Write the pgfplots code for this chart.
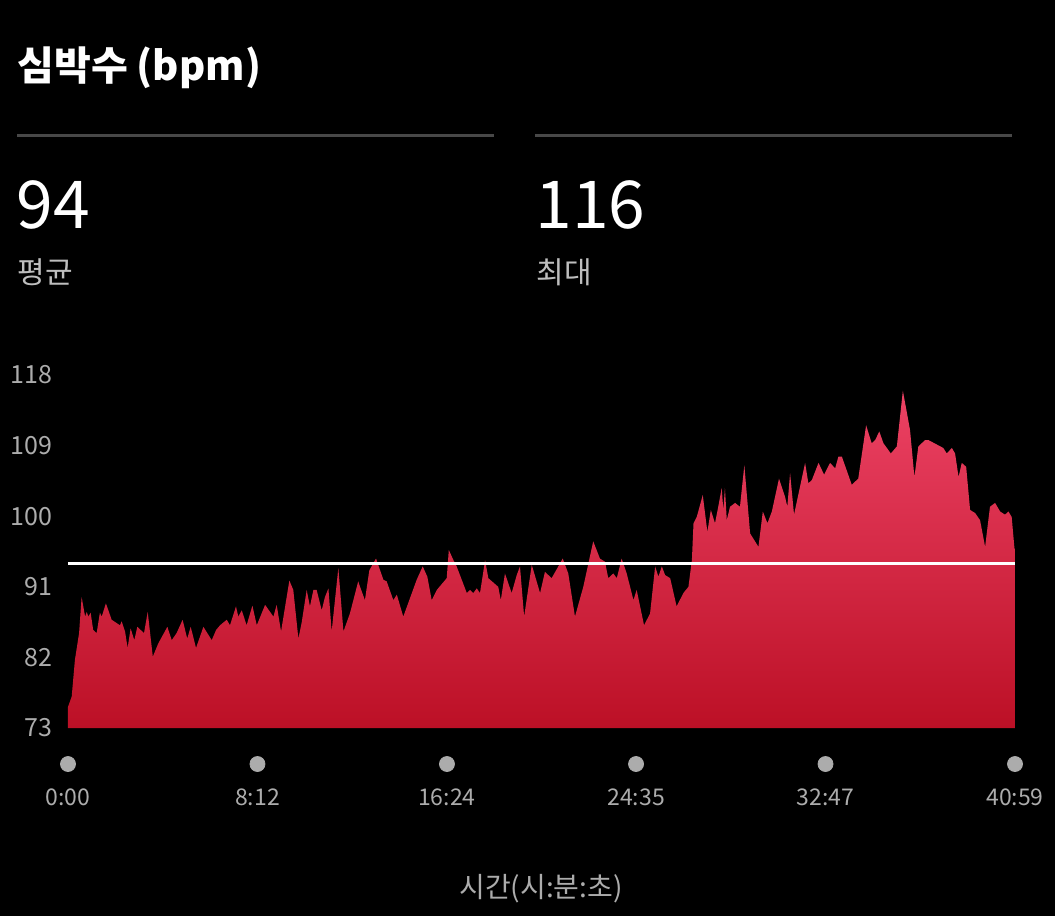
\documentclass[border=0pt]{standalone}
\usepackage{fontspec}
\setmainfont{Noto Sans CJK KR}
\usepackage{pgfplots}
\usepackage{pgfplotstable}
\pgfplotsset{compat=1.18}
\definecolor{tickgray}{RGB}{172,172,172}
\definecolor{lblgray}{RGB}{190,190,190}
\definecolor{sepgray}{RGB}{72,72,72}
\definecolor{hrtop}{RGB}{236,66,100}
\definecolor{hrbot}{RGB}{188,16,38}

\pgfplotstableread{
t bpm
0.00 73
0.00 75.7
0.16 77.0
0.30 81.7
0.48 85.1
0.59 89.7
0.74 87.2
0.81 87.8
0.88 87.2
0.98 87.7
1.09 85.5
1.24 85.1
1.38 87.7
1.46 87.2
1.64 88.9
1.89 86.8
2.25 86.1
2.32 86.6
2.47 85.3
2.58 83.2
2.71 85.7
2.87 84.2
3.00 85.9
3.29 85.1
3.45 87.8
3.67 82.1
3.91 83.8
4.30 85.9
4.49 84.2
4.70 85.1
4.96 86.8
5.16 84.4
5.31 85.9
5.54 83.2
5.86 85.9
6.22 84.2
6.41 85.5
6.58 86.1
6.87 86.8
7.01 86.1
7.27 88.5
7.37 87.2
7.52 88.0
7.73 86.1
7.98 88.6
8.17 86.1
8.53 88.7
8.89 87.2
9.03 88.7
9.22 85.3
9.58 91.8
9.75 90.6
9.97 84.4
10.11 86.4
10.33 90.6
10.47 88.5
10.62 90.6
10.76 90.6
10.98 88.0
11.12 89.7
11.27 90.8
11.41 85.3
11.70 93.4
11.92 85.3
12.20 87.6
12.56 91.7
12.64 91.0
12.85 89.3
13.04 93.1
13.33 94.6
13.65 91.9
13.79 91.7
14.08 89.3
14.23 90.0
14.51 87.2
15.09 91.9
15.35 93.6
15.55 92.3
15.74 89.3
15.96 90.6
16.39 92.1
16.48 95.7
16.68 94.4
16.82 93.6
17.26 90.2
17.40 90.6
17.54 90.2
17.69 90.8
17.83 90.2
18.05 94.4
18.19 92.1
18.62 91.0
18.73 89.3
18.91 92.7
19.20 90.2
19.42 92.5
19.56 93.6
19.74 87.2
20.07 93.8
20.43 90.2
20.64 92.9
20.93 92.1
21.41 94.6
21.65 92.7
21.94 87.2
22.30 91.0
22.73 96.8
23.02 94.6
23.24 94.2
23.38 92.1
23.60 92.7
23.75 92.1
23.96 94.6
24.18 92.7
24.47 89.3
24.61 90.6
24.93 86.1
25.19 87.6
25.41 93.6
25.55 92.3
25.70 93.6
25.84 92.5
26.06 92.1
26.34 88.5
26.63 90.2
26.85 91.0
27.00 94.4
27.07 99.1
27.21 99.9
27.47 102.7
27.67 98.0
27.82 100.8
28.00 99.1
28.14 101.2
28.29 103.6
28.36 100.8
28.43 103.6
28.51 99.5
28.65 101.2
28.87 101.7
29.08 101.2
29.27 106.5
29.52 97.8
29.88 96.1
30.07 100.6
30.27 99.1
30.46 100.6
30.77 104.8
31.03 102.5
31.13 101.2
31.25 105.5
31.42 100.2
31.90 106.8
32.04 104.2
32.19 104.6
32.48 106.8
32.72 105.3
32.98 106.8
33.20 106.1
33.34 107.6
33.49 107.6
33.92 104.0
34.20 104.8
34.54 111.6
34.78 109.3
34.93 109.7
35.11 110.8
35.29 109.3
35.61 108.0
35.87 108.9
36.13 116.0
36.44 111.0
36.63 105.0
36.80 108.9
37.09 109.7
37.24 109.7
37.88 108.7
38.03 108.0
38.25 108.7
38.39 108.0
38.54 105.0
38.68 106.8
38.87 106.3
39.04 100.8
39.26 100.4
39.47 99.5
39.69 96.1
39.90 101.2
40.12 101.7
40.34 100.6
40.55 100.2
40.70 100.6
40.84 99.9
40.96 95.9
40.98 95.8
40.98 73
}\hrdata

\begin{document}
\begin{tikzpicture}
\begin{scope}[x=0.5pt,y=-0.5pt]
\fill[black] (0,0) rectangle (1055,916);
\end{scope}

\begin{axis}[
  at={(34pt,-364pt)}, anchor=south west,
  scale only axis,
  width=473.5pt, height=176.5pt,
  xmin=0, xmax=40.9833, ymin=73, ymax=118,
  clip=false,
  axis line style={draw=none},
  major tick length=0pt,
  tick style={draw=none},
  ytick={73,82,91,100,109,118},
  xtick={0,8.2,16.4,24.5833,32.7833,40.9833},
  xticklabels={0:00,8:12,16:24,24:35,32:47,40:59},
  /pgf/number format/assume math mode=true,
  yticklabel style={anchor=east, inner sep=0pt, xshift=-7.5pt,
    font=\fontsize{12.5pt}{15pt}\selectfont, text=tickgray},
  xticklabel style={anchor=base, inner sep=0pt, yshift=-38.5pt,
    font=\fontsize{11.5pt}{14pt}\selectfont, text=tickgray},
]
\addplot[draw=none, top color=hrtop, bottom color=hrbot] table[x=t, y=bpm] {\hrdata};
\addplot[white, line width=1.5pt] coordinates {(0,94) (40.9833,94)};
\addplot[only marks, mark=*, mark size=3.75pt, color=tickgray, mark options={draw=tickgray, fill=tickgray}]
  coordinates {(0,68.41) (8.2,68.41) (16.4,68.41) (24.5833,68.41) (32.7833,68.41) (40.9833,68.41)};
\end{axis}

\begin{scope}[x=0.5pt,y=-0.5pt]
\draw[sepgray, line width=1.5pt] (17,135) -- (494,135);
\draw[sepgray, line width=1.5pt] (535,135) -- (1012,135);
\node[anchor=base west, inner sep=0pt, text=white, font=\bfseries\fontsize{20pt}{24pt}\selectfont] at (17,80) {심박수 (bpm)};
\node[anchor=base west, inner sep=0pt, text=white, font=\fontsize{33pt}{38pt}\selectfont] at (16,228) {94};
\node[anchor=base west, inner sep=0pt, text=lblgray, font=\fontsize{15pt}{18pt}\selectfont] at (17,283) {평균};
\node[anchor=base west, inner sep=0pt, text=white, font=\fontsize{33pt}{38pt}\selectfont] at (535,228) {116};
\node[anchor=base west, inner sep=0pt, text=lblgray, font=\fontsize{15pt}{18pt}\selectfont] at (536,283) {최대};
\node[anchor=center, inner sep=0pt, text=tickgray, font=\fontsize{14pt}{17pt}\selectfont] at (541,889) {시간(시:분:초)};
\end{scope}
\end{tikzpicture}
\end{document}
